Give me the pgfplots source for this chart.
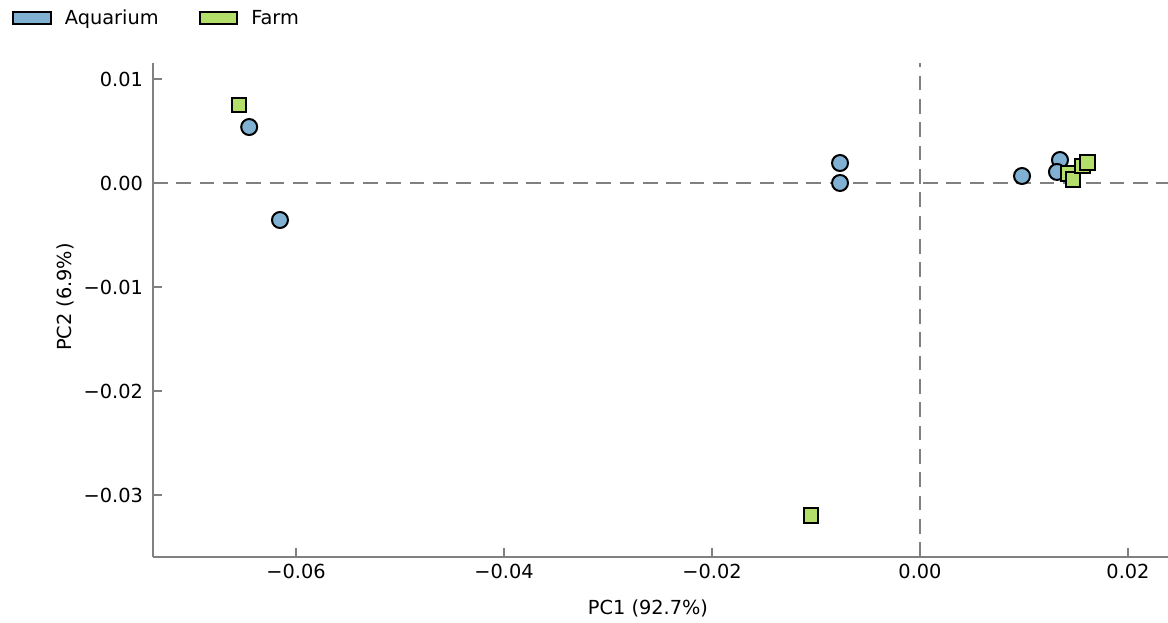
\documentclass[border=0pt]{standalone}
\usepackage{pgfplots}
\pgfplotsset{compat=1.18}
\usepackage{fontspec}
\setmainfont{DejaVu Sans}
\definecolor{aqua}{HTML}{80B1D3}
\definecolor{farm}{HTML}{B3DE69}
\definecolor{spine}{RGB}{128,128,128}
\begin{document}
\begin{tikzpicture}
\begin{axis}[
  at={(0,0)}, anchor=south west,
  scale only axis, width=761.25pt, height=370.5pt,
  xmin=-0.07375, xmax=0.023846,
  ymin=-0.035962, ymax=0.011538,
  scaled ticks=false,
  axis x line*=bottom, axis y line*=left,
  axis line style={-, spine, line width=1.5pt},
  tick align=inside, major tick length=6.75pt,
  every tick/.style={spine, line width=1pt},
  xtick={-0.06,-0.04,-0.02,0,0.02},
  xticklabels={−0.06,−0.04,−0.02,0.00,0.02},
  ytick={-0.03,-0.02,-0.01,0,0.01},
  yticklabels={−0.03,−0.02,−0.01,0.00,0.01},
  ticklabel style={font=\fontsize{14.5}{17}\selectfont},
  xticklabel style={yshift=-2pt},
  yticklabel style={xshift=-4pt},
  xlabel={PC1 (92.7\%)}, ylabel={PC2 (6.9\%)},
  label style={font=\fontsize{14.5}{17}\selectfont},
  xlabel style={at={(axis description cs:0.4877,-0.1032)}, anchor=center},
  ylabel style={at={(axis description cs:-0.0867,0.5263)}, anchor=center},
  clip=false,
  legend columns=2,
  legend style={at={(axis description cs:-0.1389,1.0911)}, anchor=west, draw=none, fill=none,
    inner sep=0pt, font=\fontsize{14.5}{17}\selectfont,
    /tikz/every odd column/.append style={column sep=8pt},
    /tikz/every even column/.append style={column sep=28pt}},
  legend image code/.code={\draw[#1, draw=black, line width=1.5pt] (0pt,-4.2pt) rectangle (28pt,4.2pt);},
]
\draw[spine, line width=1.5pt, dash pattern=on 11pt off 6.5pt] (axis cs:-0.07375,0) -- (axis cs:0.023846,0);
\draw[spine, line width=1.5pt, dash pattern=on 11pt off 6.5pt] (axis cs:0,-0.035962) -- (axis cs:0,0.011538);
\addplot[only marks, mark=*, mark size=6pt, mark options={fill=aqua, draw=black, line width=1.5pt}, fill=aqua]
 coordinates {(-0.0645,0.00538) (-0.06154,-0.00356) (-0.00769,0.00192) (-0.00769,0.0000)
   (0.00981,0.00067) (0.01346,0.00221) (0.01317,0.00106)};
\addlegendentry{Aquarium}
\addplot[only marks, mark=square*, mark size=5.6pt, mark options={fill=farm, draw=black, line width=1.5pt}, fill=farm]
 coordinates {(-0.06548,0.0075) (-0.01048,-0.0320) (0.01423,0.00087) (0.01471,0.00029)
   (0.01558,0.00163) (0.01615,0.0020)};
\addlegendentry{Farm}
\end{axis}
\pgfresetboundingbox
\path (-114.75pt,-49.5pt) rectangle (761.25pt,417.75pt);
\end{tikzpicture}
\end{document}
